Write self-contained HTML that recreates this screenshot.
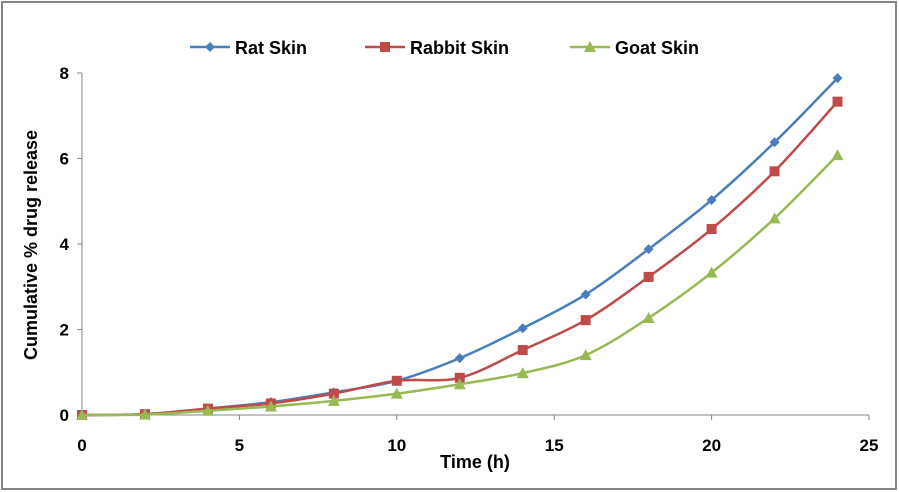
<!DOCTYPE html>
<html><head><meta charset="utf-8"><style>
body{margin:0;background:#fff;}
svg{display:block;font-family:"Liberation Sans",Arial,sans-serif;font-weight:bold;}
</style></head><body>
<svg id="chart" width="899" height="492" xmlns="http://www.w3.org/2000/svg">
<rect x="2" y="2" width="894" height="487" fill="#fff" stroke="#868686" stroke-width="2"/>
<g id="axes"></g><g id="series"></g><g id="legend"></g>
<text x="475" y="468" font-size="18" text-anchor="middle">Time (h)</text>
<text transform="translate(37,245) rotate(-90)" font-size="18" text-anchor="middle">Cumulative % drug release</text>
</svg>
<script>
const times=[0,2,4,6,8,10,12,14,16,18,20,22,24];
const ratSkin=[0,0.02,0.15,0.3,0.53,0.8,1.33,2.03,2.82,3.88,5.03,6.38,7.88];
const rabbitSkin=[0,0.02,0.15,0.27,0.5,0.8,0.87,1.52,2.22,3.23,4.35,5.7,7.33];
const goatSkin=[0,0.01,0.1,0.2,0.33,0.5,0.72,0.98,1.4,2.27,3.33,4.6,6.08];
const xTicks=[0,5,10,15,20,25];
const yTicks=[0,2,4,6,8];
const seriesNames=["Rat Skin","Rabbit Skin","Goat Skin"];
const NS="http://www.w3.org/2000/svg";
const X0=82,X1=869,Y0=415,Y1=73;
const sx=v=>X0+(v-0)/(25-0)*(X1-X0);
const sy=v=>Y0-(v-0)/(8-0)*(Y0-Y1);
function mk(t,a,p){const e=document.createElementNS(NS,t);for(const k in a)e.setAttribute(k,a[k]);(p||document.getElementById('series')).appendChild(e);return e;}
const ax=document.getElementById('axes');
let l=mk('line',{x1:X0,y1:Y1,x2:X0,y2:Y0,stroke:'#868686','stroke-width':1},ax);


l=mk('line',{x1:X0,y1:Y0,x2:X1,y2:Y0,stroke:'#868686','stroke-width':1},ax);


yTicks.forEach(v=>{
 mk('line',{x1:X0-5,y1:sy(v),x2:X0,y2:sy(v),stroke:'#868686'},ax);
 const t=mk('text',{x:X0-13,y:sy(v)+6,'font-size':17,'text-anchor':'end'},ax);t.textContent=v;
 
 
});
xTicks.forEach(v=>{
 mk('line',{x1:sx(v),y1:Y0,x2:sx(v),y2:Y0+5,stroke:'#868686'},ax);
 const t=mk('text',{x:sx(v),y:Y0+36,'font-size':17,'text-anchor':'middle'},ax);t.textContent=v;
 
 
});
function smooth(pts){let d=`M${pts[0][0]},${pts[0][1]}`;for(let i=0;i<pts.length-1;i++){const p0=pts[Math.max(i-1,0)],p1=pts[i],p2=pts[i+1],p3=pts[Math.min(i+2,pts.length-1)];const t=1/6;d+=` C${p1[0]+(p2[0]-p0[0])*t},${p1[1]+(p2[1]-p0[1])*t} ${p2[0]-(p3[0]-p1[0])*t},${p2[1]-(p3[1]-p1[1])*t} ${p2[0]},${p2[1]}`;}return d;}
function marker(shape,x,y,c,g){
 if(shape==='d')return mk('path',{d:`M${x},${y-5}L${x+5},${y}L${x},${y+5}L${x-5},${y}Z`,fill:c},g);
 if(shape==='s')return mk('rect',{x:x-5,y:y-5,width:10,height:10,fill:c},g);
 return mk('path',{d:`M${x},${y-6}L${x+6},${y+5}L${x-6},${y+5}Z`,fill:c},g);
}
const cfg=[[ratSkin,'#4A7EBB','d','rat-skin'],[rabbitSkin,'#BE4B48','s','rabbit-skin'],[goatSkin,'#98B954','t','goat-skin']];
cfg.forEach(([vals,c,sh,nm])=>{
 const pts=times.map((t,i)=>[sx(t),sy(vals[i])]);
 const p=mk('path',{d:smooth(pts),fill:'none',stroke:c,'stroke-width':2.5});
 
 
 pts.forEach(q=>{const m=marker(sh,q[0],q[1],c);
  
  });
});
const lg=document.getElementById('legend');
const lx=[190,365,570];
cfg.forEach(([v,c,sh,nm],i)=>{
 const g=mk('g',{},lg);
 
 
 mk('line',{x1:lx[i],y1:47,x2:lx[i]+40,y2:47,stroke:c,'stroke-width':2.5},g);
 marker(sh,lx[i]+20,47,c,g);
 const t=mk('text',{x:lx[i]+45,y:54,'font-size':18},g);t.textContent=seriesNames[i];
});
</script>
</body></html>
